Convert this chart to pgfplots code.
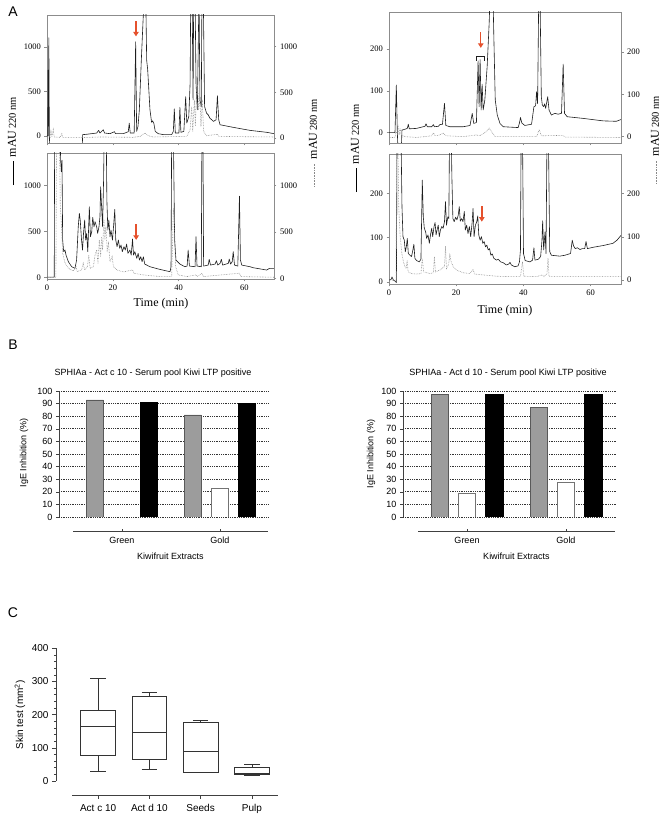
\documentclass[border=0pt]{standalone}
\usepackage{fontspec}
\setmainfont{Liberation Serif}
\newfontfamily\arial{Liberation Sans}
\usepackage{pgfplots}
\pgfplotsset{compat=1.18}
\usetikzlibrary{arrows.meta}
\definecolor{arrowred}{HTML}{E5512D}
\definecolor{framegray}{HTML}{8C8C8C}
\definecolor{bargray}{HTML}{9C9C9C}
\definecolor{trace}{HTML}{1E1E1E}
\definecolor{dottrace}{HTML}{8A8A8A}

\newcommand{\solidkey}{\raisebox{0.45ex}{\rule{24pt}{0.6pt}}}
\newcommand{\dotkey}{\raisebox{0.45ex}{\hbox to 24pt{\color{dottrace}\xleaders\hbox to 1.6pt{\hss\rule{0.7pt}{0.6pt}\hss}\hfill}}}

\pgfplotsset{
  chrom/.style={
    scale only axis, anchor=south west,
    xmin=0, xmax=69,
    axis line style={draw=framegray, line width=0.6pt},
    tick style={draw=framegray, line width=0.5pt},
    major tick length=2.5pt,
    tick align=outside,
    xtick={0,20,40,60},
    xtick pos=left, ytick pos=left,
    tick label style={font=\fontsize{8.5}{9}\selectfont},
    /pgf/number format/assume math mode=true,
    /pgf/number format/1000 sep={},
  },
  chromR/.style={
    scale only axis, anchor=south west,
    xmin=0, xmax=69,
    axis x line=none, axis y line*=right,
    axis line style={draw=framegray, line width=0.6pt, -},
    tick style={draw=framegray, line width=0.5pt},
    major tick length=2.5pt,
    tick align=outside,
    ytick pos=right,
    tick label style={font=\fontsize{8.5}{9}\selectfont},
    /pgf/number format/assume math mode=true,
    /pgf/number format/1000 sep={},
  },
  sol/.style={draw=trace, line width=0.6pt, line join=round},
  dot/.style={draw=dottrace, line width=0.6pt, densely dotted},
  barax/.style={
    scale only axis, anchor=south west,
    ymin=0, ymax=100, ytick={0,10,...,100},
    axis y line*=left, axis x line=none,
    axis line style={-, draw=black!75, line width=0.6pt},
    tick style={draw=black!75, line width=0.5pt},
    major tick length=3pt, tick align=outside,
    ymajorgrids, grid style={dash pattern=on 0.6pt off 1.2pt, draw=black!80, line width=0.6pt},
    tick label style={font=\arial\fontsize{9}{10}\selectfont},
    /pgf/number format/assume math mode=true,
  },
  catax/.style={
    scale only axis, anchor=south west, height=4pt,
    ymin=0, ymax=1,
    axis x line*=bottom, axis y line=none,
    axis line style={-, draw=black!75, line width=0.6pt},
    tick style={draw=black!75, line width=0.5pt},
    major tick length=3pt, tick align=inside,
    tick label style={font=\arial\fontsize{9}{10}\selectfont, yshift=-2pt},
    xlabel style={font=\arial\fontsize{9}{10}\selectfont, yshift=-2pt},
  },
  boxst/.style={draw=black!80, line width=0.7pt, line join=miter},
}
\tikzset{redarrow/.style={draw=arrowred, line width=1.4pt, -{Triangle[length=4.5pt,width=5.5pt]}}}

\begin{document}
\begin{tikzpicture}[x=1pt,y=1pt]
\path[use as bounding box] (0,0) rectangle (662,815);

% ================= Panel A =================
% --- top left
\begin{axis}[chrom, at={(47pt,672pt)}, width=227pt, height=128pt, ymin=-79, ymax=1360, ytick={0,500,1000}, xticklabels={}]
\addplot[sol] coordinates {(0,0) (0.2,0) (0.3,740) (0.4,0) (0.56,1104) (0.71,33) (0.81,-100) (10.74,-100) (10.84,15) (12.06,19) (13.58,26) (15.1,33) (15.7,63) (16.1,33) (17.1,70) (17.5,33) (19.15,26) (20.5,48) (20.8,26) (23.2,26) (24.7,48) (25.0,145) (25.3,33) (26.5,33) (26.95,1059) (27.25,52) (27.66,108) (28.07,294) (28.67,851) (29.2,1297) (29.6,1600) (30.0,1600) (30.3,851) (30.6,747) (30.9,554) (31.3,294) (31.8,152) (32.1,171) (32.5,138) (32.9,52) (33.8,26) (35.4,15) (37.9,15) (38.4,52) (38.7,305) (39.0,33) (40.1,33) (40.4,323) (40.7,41) (41.6,52) (42.15,442) (42.5,145) (43.1,219) (43.5,591) (43.7,1600) (44.1,1600) (44.4,405) (44.6,1600) (45.0,1600) (45.3,591) (45.7,294) (46.2,1600) (46.5,405) (46.9,331) (47.1,1600) (47.5,1600) (47.9,331) (48.5,256) (49.0,238) (49.5,201) (50.6,164) (51.4,182) (51.8,453) (52.2,182) (52.6,126) (56.6,97) (61.7,63) (66.8,41) (69.0,26)};
\draw[redarrow] (27.05,1290) -- (27.05,1120);
\end{axis}
\begin{axis}[chromR, at={(47pt,672pt)}, width=227pt, height=128pt, ymin=-55, ymax=1347, ytick={0,500,1000}]
\addplot[dot] coordinates {(0,0) (0.9,0) (1.2,73) (1.5,11) (1.9,91) (2.2,11) (4.0,7) (4.5,47) (4.8,4) (11.0,4) (16.1,11) (26.2,7) (28.3,18) (29.8,55) (30.8,25) (32.3,11) (42.5,18) (43.5,91) (43.97,345) (44.3,73) (44.8,418) (45.1,127) (45.5,564) (45.8,582) (46.1,309) (46.5,455) (46.8,127) (47.2,418) (47.6,73) (48.5,25) (51.8,40) (52.2,18) (56.6,15) (69,11)};
\end{axis}

% --- bottom left
\begin{axis}[chrom, at={(47pt,536pt)}, width=227pt, height=126pt, ymin=-14, ymax=1351, ytick={0,500,1000}]
\addplot[sol] coordinates {(0,7) (1.9,7) (2.2,7) (2.33,1600) (3.95,1600) (4.15,1274) (4.36,1148) (4.56,1274) (4.76,408) (5.07,282) (5.47,300) (5.78,245) (6.5,173) (7.5,119) (8.5,101) (9.0,191) (9.5,552) (9.83,697) (10.1,625) (10.5,408) (10.8,300) (11.1,480) (11.45,625) (11.75,408) (12.06,480) (12.4,282) (12.7,588) (12.87,769) (13.2,444) (13.6,498) (13.9,653) (14.3,552) (14.6,606) (15.1,552) (15.4,480) (15.8,552) (16.1,661) (16.3,985) (16.6,769) (16.9,552) (17.2,1058) (17.4,1600) (18.0,1600) (18.2,841) (18.5,516) (18.8,625) (19.15,444) (19.45,516) (19.9,408) (20.3,588) (20.6,740) (20.9,408) (21.3,336) (21.7,408) (22.1,318) (22.5,354) (22.9,282) (23.4,336) (23.8,300) (24.2,365) (24.6,264) (25.2,300) (25.6,245) (26.0,419) (26.3,245) (26.7,282) (27.3,209) (27.7,264) (28.1,191) (28.5,227) (28.9,173) (29.3,227) (29.7,148) (31.3,119) (34.3,90) (37.4,65) (37.7,119) (37.9,1600) (38.4,1600) (38.8,408) (39.2,191) (40.4,148) (41.9,119) (42.6,126) (42.9,300) (43.3,126) (45.0,119) (45.3,444) (45.6,126) (46.9,119) (47.1,1600) (47.4,1600) (47.6,126) (49.0,137) (49.3,199) (49.7,137) (51.1,148) (51.5,184) (51.9,137) (52.6,155) (53.0,199) (53.4,137) (55.1,155) (55.4,202) (55.8,148) (56.3,173) (56.6,282) (57.0,137) (58.0,126) (58.5,884) (58.8,191) (59.2,137) (61.7,119) (62.7,108) (66.8,83) (67.6,101) (69,101)};
\draw[redarrow] (27.1,580) -- (27.1,410);
\end{axis}
\begin{axis}[chromR, at={(47pt,536pt)}, width=227pt, height=126pt, ymin=-8, ymax=1347, ytick={0,500,1000}]
\addplot[dot] coordinates {(0,7) (2.7,7) (2.94,1600) (3.75,1600) (4.05,770) (4.36,591) (4.76,268) (5.5,161) (6.5,107) (8.0,79) (8.8,125) (9.2,72) (10.5,90) (11.0,161) (11.45,90) (12.3,125) (12.7,250) (13.1,107) (14.1,125) (14.6,250) (15.1,304) (15.5,161) (15.9,412) (16.3,233) (16.6,447) (16.9,304) (17.3,634) (17.6,412) (17.9,555) (18.3,304) (18.7,376) (19.15,179) (19.8,233) (20.2,125) (21.2,90) (23.2,68) (26.0,90) (26.4,54) (29.3,36) (34.3,18) (37.9,18) (38.2,412) (38.4,752) (38.7,591) (39.1,125) (39.9,36) (42.5,18) (45.3,36) (45.7,18) (47.1,54) (47.5,18) (58.5,54) (58.9,18) (69,11)};
\end{axis}

% --- top right
\begin{axis}[chrom, at={(389pt,672pt)}, width=232pt, height=131pt, ymin=-25, ymax=289, ytick={0,100,200}, xticklabels={}]
\addplot[sol] coordinates {(0,0) (1.78,0) (2.18,114) (2.48,0) (2.67,-40) (3.66,-40) (3.86,6) (4.75,8) (5.45,10) (5.74,20) (6.04,9) (8.2,10) (10.7,15) (11.0,21) (11.4,14) (12.7,14) (13.2,19) (13.5,14) (14.7,15) (15.1,19) (15.9,20) (16.5,70) (16.9,17) (18.1,14) (22.1,14) (24.1,17) (24.75,46) (25.2,22) (26.0,24) (26.5,172) (26.8,62) (27.1,175) (27.4,54) (27.7,116) (28.0,54) (28.5,78) (29.2,159) (29.8,264) (30.1,340) (30.9,340) (31.2,223) (31.6,78) (32.2,42) (33.0,22) (33.95,14) (38.4,12) (38.8,23) (39.1,36) (39.5,23) (40.4,17) (42.4,20) (43.1,62) (43.6,64) (43.9,98) (44.2,69) (44.55,340) (44.9,340) (45.3,86) (45.6,66) (46.0,62) (46.3,69) (46.6,58) (47.2,86) (47.6,54) (48.3,42) (49.3,46) (50.3,44) (51.3,46) (51.8,164) (52.2,46) (53.0,38) (57.7,34) (63.7,28) (67.6,27) (68.9,31) (69,31)};
\draw[redarrow] (27.3,241) -- (27.3,203);
\draw[line width=1.1pt, draw=trace] (25.9,172) -- (25.9,183) -- (28.3,183) -- (28.3,172);
\end{axis}
\begin{axis}[chromR, at={(389pt,672pt)}, width=232pt, height=131pt, ymin=-15, ymax=294, ytick={0,100,200}]
\addplot[dot] coordinates {(0,-2) (1.8,-2) (2.1,12) (2.4,8) (2.67,24) (3.0,4) (3.3,20) (3.6,4) (4.75,0) (8.2,-2) (12.7,2) (13.2,9) (13.7,2) (15.1,4) (16.1,8) (17.1,2) (22.1,0) (26.0,4) (27.0,2) (29.0,12) (29.8,20) (30.5,12) (31.5,0) (43.9,0) (44.7,17) (45.3,2) (51.8,3) (52.3,-1) (69,-2)};
\end{axis}

% --- bottom right
\begin{axis}[chrom, at={(389pt,531pt)}, width=232pt, height=130pt, ymin=-5, ymax=289, ytick={0,100,200}]
\addplot[sol] coordinates {(0,4) (0.6,5) (0.9,11) (1.3,4) (1.9,1) (2.2,-2) (2.4,340) (3.56,340) (3.86,170) (4.16,102) (4.55,94) (4.85,68) (5.15,79) (5.45,98) (5.74,64) (6.24,60) (6.7,57) (7.1,72) (7.4,85) (7.7,53) (8.2,48) (9.0,45) (9.5,51) (9.9,230) (10.2,147) (10.5,121) (10.9,113) (11.2,98) (11.6,106) (12.0,87) (12.4,109) (12.7,121) (13.0,102) (13.4,125) (13.7,134) (14.0,106) (14.4,121) (14.65,128) (14.95,102) (15.3,117) (15.7,125) (16.1,121) (16.5,136) (16.8,181) (17.1,128) (17.5,147) (17.8,143) (18.0,340) (18.5,340) (18.7,238) (19.0,143) (19.4,136) (19.8,146) (20.2,140) (20.6,151) (20.9,170) (21.2,137) (21.6,143) (22.0,136) (22.4,159) (22.7,117) (23.1,128) (23.5,109) (23.9,125) (24.3,102) (24.7,132) (25.0,166) (25.3,102) (25.7,128) (26.1,136) (26.4,149) (26.7,106) (27.1,94) (27.5,102) (27.9,87) (28.3,91) (28.7,79) (29.1,83) (29.5,72) (29.9,75) (30.3,60) (30.7,63) (31.2,53) (32.0,49) (32.5,51) (33.2,45) (34.0,43) (34.9,38) (35.6,40) (36.0,44) (36.4,38) (37.4,34) (38.4,36) (38.8,45) (39.1,72) (39.3,340) (39.7,340) (40.0,64) (40.5,48) (41.9,45) (42.7,49) (43.1,77) (43.4,49) (44.4,51) (45.1,57) (45.5,94) (45.7,138) (46.0,72) (46.3,102) (46.4,113) (46.7,64) (47.0,340) (47.4,340) (47.8,68) (48.3,60) (50.8,58) (52.3,60) (54.0,64) (54.5,94) (54.9,81) (55.4,75) (56.0,77) (56.8,73) (57.5,75) (58.2,75) (58.6,91) (59.0,75) (60.7,78) (63.7,82) (66.6,87) (67.8,94) (68.9,104) (69,105)};
\draw[redarrow] (27.6,171) -- (27.6,136);
\end{axis}
\begin{axis}[chromR, at={(389pt,531pt)}, width=232pt, height=130pt, ymin=-9, ymax=291, ytick={0,100,200}]
\addplot[dot] coordinates {(0,0) (2.1,0) (2.3,340) (2.6,340) (2.9,169) (3.3,104) (3.8,62) (4.3,42) (4.75,31) (5.1,27) (5.4,46) (5.7,19) (6.7,15) (8.2,14) (9.5,15) (9.9,50) (10.3,19) (12.2,15) (13.2,17) (13.5,54) (13.8,19) (15.1,23) (15.7,27) (16.5,31) (16.8,78) (17.1,27) (17.7,35) (18.1,58) (18.5,42) (19.1,31) (20.1,23) (22.1,17) (24.1,15) (25.0,25) (25.4,14) (28.0,12) (31.9,9) (35.9,8) (39.1,8) (39.5,31) (39.7,42) (40.1,9) (43.9,8) (45.7,12) (46.1,8) (47.0,15) (47.3,50) (47.6,8) (69,8)};
\end{axis}

% A labels
\node[font=\arial\fontsize{14}{14}\selectfont] at (13,803) {A};
\node[font=\fontsize{12}{13}\selectfont] at (161,511) {Time (min)};
\node[font=\fontsize{12}{13}\selectfont] at (505,504) {Time (min)};
\node[rotate=90, inner sep=0pt] at (12,674) {\solidkey\hspace{4pt}{\fontsize{12}{12}\selectfont mAU}\,{\fontsize{10.5}{11}\selectfont 220 nm}};
\node[rotate=90, inner sep=0pt] at (313,672) {\dotkey\hspace{4pt}{\fontsize{12}{12}\selectfont mAU}\,{\fontsize{10.5}{11}\selectfont 280 nm}};
\node[rotate=90, inner sep=0pt] at (355,667) {\solidkey\hspace{4pt}{\fontsize{12}{12}\selectfont mAU}\,{\fontsize{10.5}{11}\selectfont 220 nm}};
\node[rotate=90, inner sep=0pt] at (655,675) {\dotkey\hspace{4pt}{\fontsize{12}{12}\selectfont mAU}\,{\fontsize{10.5}{11}\selectfont 280 nm}};

% ================= Panel B =================
\node[font=\arial\fontsize{14}{14}\selectfont] at (13,470) {B};
\node[font=\arial\fontsize{9}{10}\selectfont] at (153,442) {SPHIAa - Act c 10 - Serum pool Kiwi LTP positive};
\node[font=\arial\fontsize{9}{10}\selectfont] at (508,442) {SPHIAa - Act d 10 - Serum pool Kiwi LTP positive};
\node[rotate=90, font=\arial\fontsize{9}{10}\selectfont] at (24,362) {IgE Inhibition (\%)};
\node[rotate=90, font=\arial\fontsize{9}{10}\selectfont] at (371,361) {IgE Inhibition (\%)};

\begin{axis}[barax, at={(59pt,298pt)}, width=209pt, height=126pt, xmin=0.357, xmax=2.49]
\addplot[ybar, bar width=0.173, bar shift=-0.276, fill=bargray, draw=black!65, line width=0.6pt] coordinates {(1,93) (2,81)};
\addplot[ybar, bar width=0.173, bar shift=0, fill=white, draw=black!55, line width=0.6pt] coordinates {(2,22.5)};
\addplot[ybar, bar width=0.173, bar shift=0.276, fill=black, draw=black, line width=0.6pt] coordinates {(1,91) (2,90)};
\end{axis}
\begin{axis}[catax, at={(73pt,283.3pt)}, width=195pt, xmin=0.5, xmax=2.49, xtick={1,2}, xticklabels={Green,Gold}, xlabel={Kiwifruit Extracts}]
\addplot[draw=none] coordinates {(1,0.5)};
\end{axis}

\begin{axis}[barax, at={(403pt,298pt)}, width=213pt, height=126pt, xmin=0.354, xmax=2.505]
\addplot[ybar, bar width=0.173, bar shift=-0.276, fill=bargray, draw=black!65, line width=0.6pt] coordinates {(1,97) (2,87)};
\addplot[ybar, bar width=0.173, bar shift=0, fill=white, draw=black!55, line width=0.6pt] coordinates {(1,18.5) (2,27.5)};
\addplot[ybar, bar width=0.173, bar shift=0.276, fill=black, draw=black, line width=0.6pt] coordinates {(1,97) (2,97)};
\end{axis}
\begin{axis}[catax, at={(418pt,283.3pt)}, width=197pt, xmin=0.505, xmax=2.495, xtick={1,2}, xticklabels={Green,Gold}, xlabel={Kiwifruit Extracts}]
\addplot[draw=none] coordinates {(1,0.5)};
\end{axis}

% ================= Panel C =================
\node[font=\arial\fontsize{14}{14}\selectfont] at (13,202) {C};
\node[rotate=90, font=\arial\fontsize{10}{11}\selectfont] at (20,100) {Skin test (mm\textsuperscript{2})};
\begin{axis}[scale only axis, anchor=south west, at={(56pt,34pt)}, width=222pt, height=132.7pt,
  xmin=0.18, xmax=4.51, ymin=0, ymax=400, ytick={0,100,...,400}, minor y tick num=4,
  axis y line*=left, axis x line=none,
  axis line style={-, draw=black!75, line width=0.6pt},
  tick style={draw=black!75, line width=0.5pt},
  major tick length=4pt, minor tick length=2.2pt, tick align=outside,
  tick label style={font=\arial\fontsize{10}{11}\selectfont},
  /pgf/number format/assume math mode=true,
  unbounded coords=jump]
% Act c 10: whiskers 30/309, quartiles 76/213, median 166
\addplot[boxst] coordinates {(0.66,76) (1.34,76) (1.34,213) (0.66,213) (0.66,76) (1,nan) (0.66,166) (1.34,166) (1,nan) (1,213) (1,309) (1,nan) (0.85,309) (1.15,309) (1,nan) (1,76) (1,30) (1,nan) (0.85,30) (1.15,30)};
% Act d 10: whiskers 36/266, quartiles 65/255, median 147
\addplot[boxst] coordinates {(1.66,65) (2.34,65) (2.34,255) (1.66,255) (1.66,65) (2,nan) (1.66,147) (2.34,147) (2,nan) (2,255) (2,266) (2,nan) (1.85,266) (2.15,266) (2,nan) (2,65) (2,36) (2,nan) (1.85,36) (2.15,36)};
% Seeds: whiskers 25/184, quartiles 26/177, median 88
\addplot[boxst] coordinates {(2.66,26) (3.34,26) (3.34,177) (2.66,177) (2.66,26) (3,nan) (2.66,88) (3.34,88) (3,nan) (3,177) (3,184) (3,nan) (2.85,184) (3.15,184) (3,nan) (3,26) (3,25) (3,nan) (2.85,25) (3.15,25)};
% Pulp: whiskers 17/51, quartiles 20/40, median 24
\addplot[boxst] coordinates {(3.66,20) (4.34,20) (4.34,40) (3.66,40) (3.66,20) (4,nan) (3.66,24) (4.34,24) (4,nan) (4,40) (4,51) (4,nan) (3.85,51) (4.15,51) (4,nan) (4,20) (4,17) (4,nan) (3.85,17) (4.15,17)};
\end{axis}
\begin{axis}[catax, at={(72pt,19.3pt)}, width=206pt, xmin=0.49, xmax=4.51, xtick={1,2,3,4},
  xticklabels={Act c 10,Act d 10,Seeds,Pulp}, tick align=outside,
  tick label style={font=\arial\fontsize{10}{11}\selectfont, yshift=0pt}]
\addplot[draw=none] coordinates {(1,0.5)};
\end{axis}
\end{tikzpicture}
\end{document}
